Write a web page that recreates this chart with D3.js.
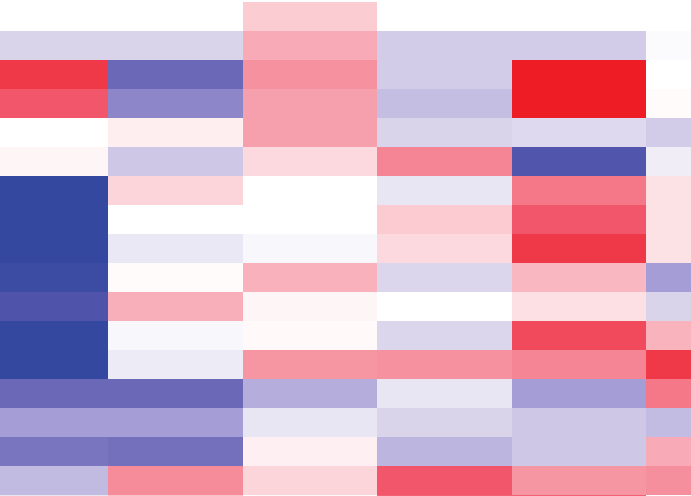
<!DOCTYPE html>
<html>
<head>
<meta charset="utf-8">
<script src="https://cdn.jsdelivr.net/npm/d3@7"></script>
<style>
html,body{margin:0;padding:0;background:#fff;overflow:hidden;}
svg{display:block;}
</style>
</head>
<body>
<svg id="chart" width="691" height="496"></svg>
<script>
const columns = ["C1","C2","C3","C4","C5","C6"];
const rows = ["R1","R2","R3","R4","R5","R6","R7","R8","R9","R10","R11","R12","R13","R14","R15","R16","R17","R18"];
const col1 = [0, -0.17, 0.9, 0.8, 0, 0.05, -1, -1, -1, -0.95, -0.83, -1, -1, -0.66, -0.4, -0.58, -0.28, -0.1];
const col2 = [0, -0.17, -0.66, -0.5, 0.08, -0.22, 0.2, 0, -0.09, 0.02, 0.38, -0.03, -0.08, -0.66, -0.4, -0.6, 0.55, 0.3];
const col3 = [0.24, 0.4, 0.52, 0.45, 0.45, 0.18, 0, 0, -0.03, 0.37, 0.05, 0.03, 0.5, -0.33, -0.1, 0.07, 0.2, 0.02];
const col4 = [0, -0.2, -0.2, -0.26, -0.17, 0.58, -0.1, 0.25, 0.18, -0.16, 0, -0.16, 0.52, -0.1, -0.17, -0.3, 0.8, 0.75];
const col5 = [0, -0.2, 1.0, 1.0, -0.15, -0.82, 0.64, 0.8, 0.9, 0.34, 0.15, 0.84, 0.58, -0.4, -0.22, -0.22, 0.5, 0.75];
const col6 = [0, -0.02, 0, 0.02, -0.2, -0.07, 0.14, 0.14, 0.14, -0.4, -0.17, 0.36, 0.9, 0.64, -0.27, 0.4, 0.53, 0.02];
const seriesValues = [col1, col2, col3, col4, col5, col6];

const colorStops = [-1, -0.8, -0.6, -0.4, -0.2, 0, 0.2, 0.4, 0.6, 0.8, 1];
const colorRange = ["#3548a0","#5456ac","#7470bc","#a59ed6","#d3cce8","#ffffff","#fcd5da","#f8abb6","#f58090","#f2566a","#ee1c25"];

const cells = [];
columns.forEach((c, ci) => rows.forEach((r, ri) => cells.push({col: c, row: r, value: seriesValues[ci][ri]})));

const x = d3.scaleBand().domain(columns).range([-26.5, 780.5]).padding(0);
const y = d3.scaleBand().domain(rows).range([2, 524]).padding(0);
const color = d3.scaleLinear().domain(colorStops).range(colorRange).interpolate(d3.interpolateRgb).clamp(true);

const svg = d3.select("#chart");
svg.append("g").selectAll("rect").data(cells).join("rect")
  .attr("x", d => x(d.col))
  .attr("y", d => y(d.row))
  .attr("width", x.bandwidth())
  .attr("height", y.bandwidth())
  .attr("fill", d => color(d.value))
  .attr("shape-rendering", "crispEdges");
</script>
</body>
</html>
